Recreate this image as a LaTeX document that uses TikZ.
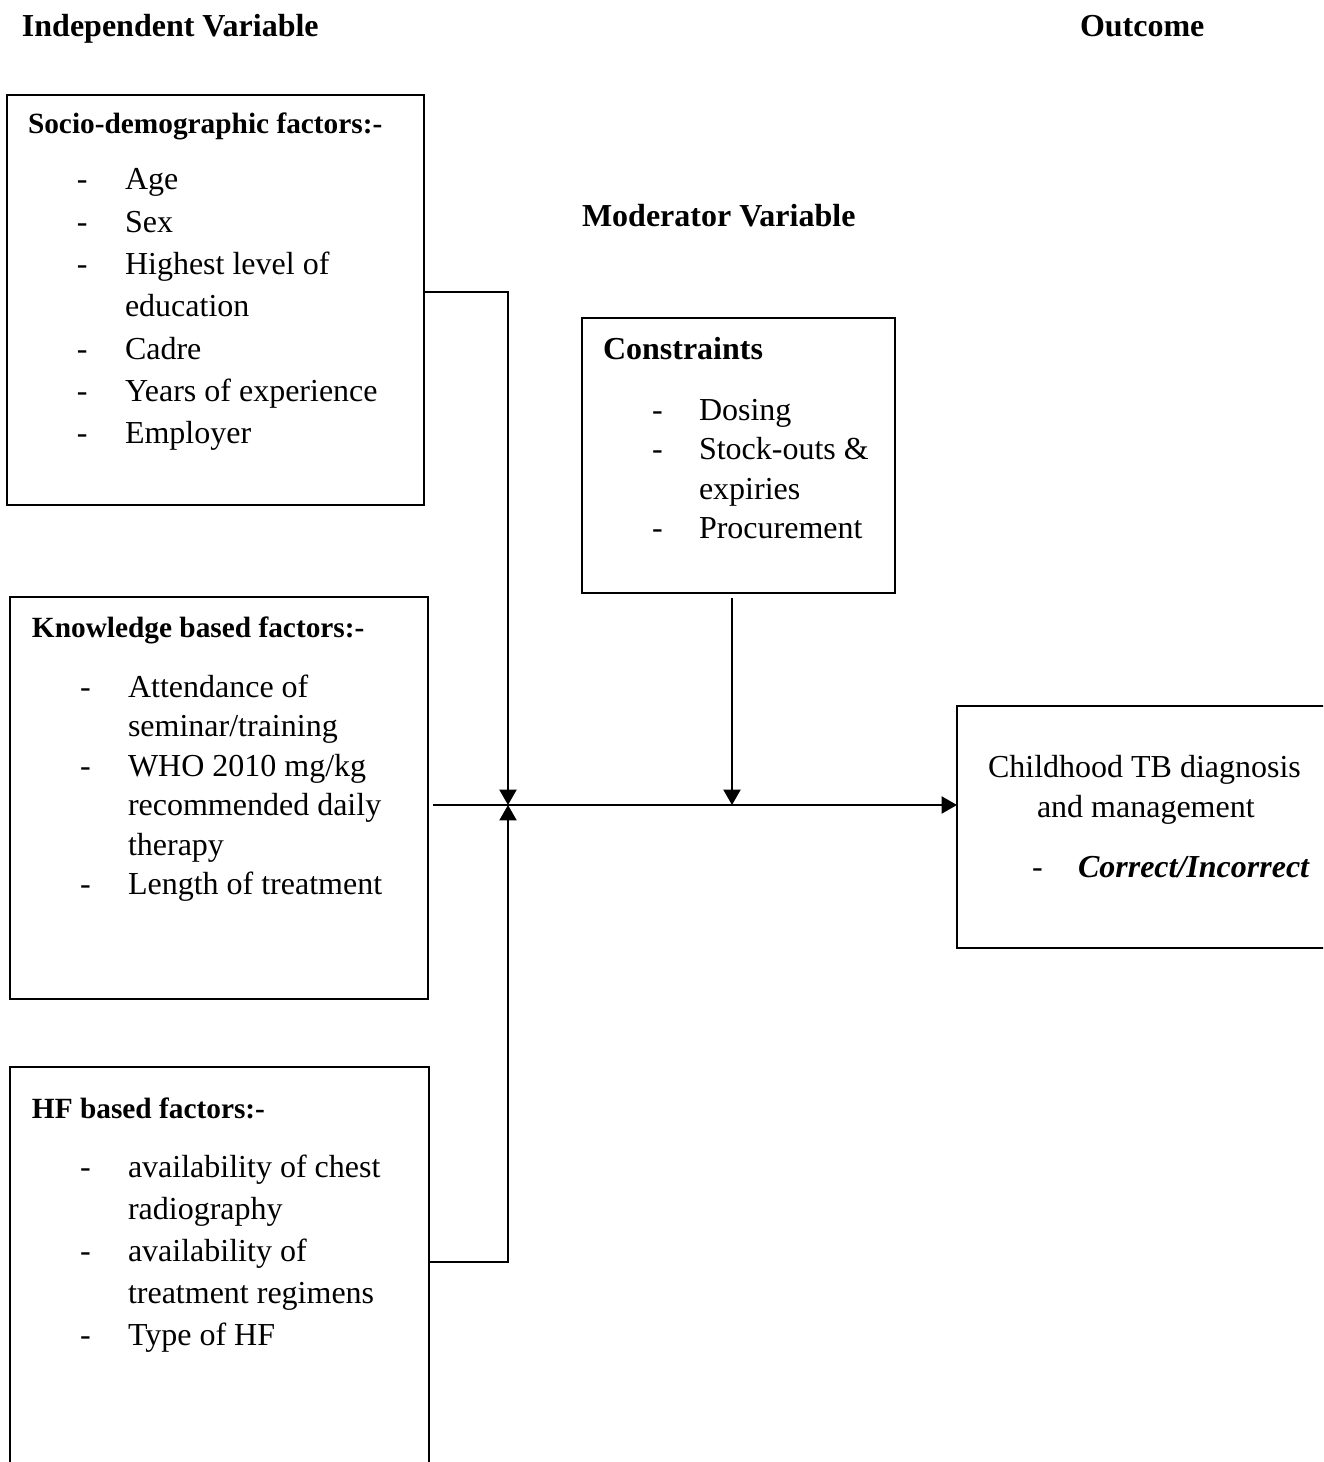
\documentclass[tikz,border=0pt]{standalone}
\usepackage{fontspec}
\setmainfont{Liberation Serif}
\usetikzlibrary{arrows.meta,fit}
\begin{document}
\begin{tikzpicture}[x=0.375pt,y=-0.375pt,
  every node/.style={font=\fontsize{12}{15}\selectfont, inner sep=0pt, outer sep=0pt},
  txt/.style={anchor=base west},
  hd/.style={anchor=base west, font=\fontsize{12}{15}\selectfont\bfseries},
  bhd/.style={anchor=base west, font=\fontsize{11}{14}\selectfont\bfseries},
  box/.style={draw, line width=1.1pt, inner sep=0pt, fill=none},
  conn/.style={line width=0.8pt},
  arr/.style={conn, -{Triangle[width=6.4pt,length=5.8pt]}}]
\clip (0,0) rectangle (1323,1462);
\fill[white] (0,0) rectangle (1323,1462);

% titles
\node[hd] (tIV) at (22,37) {Independent Variable};
\node[hd] (tOut) at (1080,37) {Outcome};
\node[hd] (tMod) at (582,227) {Moderator Variable};

% boxes
\node[box, fit={(7,95) (424,505)}] (socio) {};
\node[box, fit={(10,597) (428,999)}] (know) {};
\node[box, fit={(10,1067) (429,1490)}] (hf) {};
\node[box, fit={(582,318) (895,593)}] (cons) {};
\node[box, fit={(957,706) (1340,948)}] (out) {};

% socio-demographic
\node[bhd] (sH) at (28,134) {Socio-demographic factors:-};
\foreach \y/\t/\d [count=\i] in {190/Age/1, 232.3/Sex/1, 274.6/Highest level of/1, 316.9/education/0, 359.2/Cadre/1, 401.5/Years of experience/1, 443.8/Employer/1}{
  \ifnum\d=1 \node[txt] (sD\i) at (77,\y) {-};\fi
  \node[txt] (sT\i) at (125,\y) {\t};
}

% knowledge
\node[bhd] (kH) at (32,637) {Knowledge based factors:-};
\foreach \y/\t/\d [count=\i] in {697/Attendance of/1, 736.5/seminar\slash training/0, 776/WHO 2010 mg\slash kg/1, 815.5/recommended daily/0, 855/therapy/0, 894.5/Length of treatment/1}{
  \ifnum\d=1 \node[txt] (kD\i) at (80,\y) {-};\fi
  \node[txt] (kT\i) at (128,\y) {\t};
}

% HF
\node[bhd] (hH) at (32,1118) {HF based factors:-};
\foreach \y/\t/\d [count=\i] in {1177/availability of chest/1, 1219/radiography/0, 1261/availability of/1, 1303/treatment regimens/0, 1345/Type of HF/1}{
  \ifnum\d=1 \node[txt] (hD\i) at (80,\y) {-};\fi
  \node[txt] (hT\i) at (128,\y) {\t};
}

% constraints
\node[hd] (cH) at (603,360) {Constraints};
\foreach \y/\t/\d [count=\i] in {420/Dosing/1, 459.5/Stock-outs \&/1, 499/expiries/0, 538.5/Procurement/1}{
  \ifnum\d=1 \node[txt] (cD\i) at (652,\y) {-};\fi
  \node[txt] (cT\i) at (699,\y) {\t};
}

% outcome
\node[txt] (o1) at (988,777) {Childhood TB diagnosis};
\node[txt] (o2) at (1037,817) {and management};
\node[txt] (oD) at (1032,877) {-};
\node[txt] (o3) at (1078,877) {\textbf{\textit{Correct/Incorrect}}};

% connectors
\coordinate (j) at (508,805);
\coordinate (sj) at (508,292);
\coordinate (hj) at (508,1262);
\coordinate (cj) at (732,805);
\coordinate (kstart) at (433,805);
\coordinate (ctop) at (732,598);

\draw[arr] (socio.east |- sj) -- (sj) -- (j);
\draw[arr] (hf.east |- hj) -- (hj) -- (j);
\draw[arr] (kstart) -- (out.west |- j);
\draw[arr] (ctop) -- (cj);
\end{tikzpicture}
\end{document}
